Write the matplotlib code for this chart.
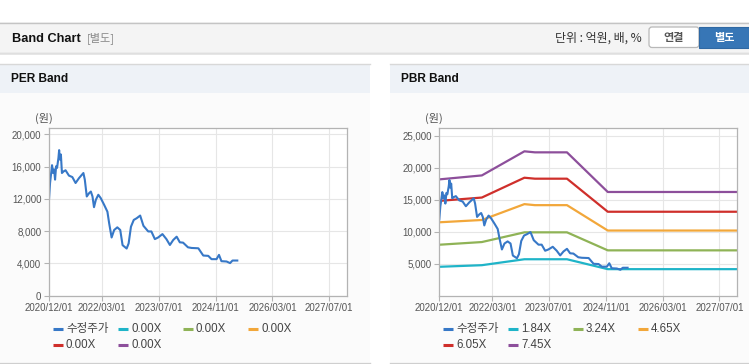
import matplotlib
matplotlib.use("Agg")
import matplotlib.pyplot as plt
from matplotlib.patches import Rectangle, FancyBboxPatch
from matplotlib.lines import Line2D
import pandas as pd

# adjusted close price (수정주가)
price_dates = [
    "2020-12-01", "2020-12-10", "2020-12-27", "2021-01-05", "2021-01-14", "2021-01-22",
    "2021-01-31", "2021-02-08", "2021-02-20", "2021-02-26", "2021-03-04", "2021-03-13",
    "2021-03-22", "2021-04-05", "2021-04-22", "2021-05-21", "2021-06-19", "2021-07-17",
    "2021-08-16", "2021-09-22", "2021-10-04", "2021-10-21", "2021-11-10", "2021-11-25",
    "2021-12-09", "2021-12-22", "2022-01-07", "2022-01-28", "2022-02-18", "2022-03-19",
    "2022-04-16", "2022-05-01", "2022-05-22", "2022-06-13", "2022-07-10", "2022-08-04",
    "2022-08-24", "2022-09-28", "2022-10-15", "2022-11-04", "2022-11-28", "2022-12-22",
    "2023-01-22", "2023-02-19", "2023-04-01", "2023-04-28", "2023-05-28", "2023-06-25",
    "2023-08-01", "2023-09-04", "2023-10-04", "2023-11-01", "2023-12-01", "2023-12-28",
    "2024-01-25", "2024-03-07", "2024-04-07", "2024-06-04", "2024-07-16", "2024-08-28",
    "2024-09-25", "2024-11-07", "2024-11-28", "2024-12-19", "2025-02-01", "2025-03-03",
    "2025-03-24", "2025-05-04",
]
price_values = [
    11900, 13960, 16170, 15200, 15650, 14380,
    16040, 15830, 17080, 18040, 16880, 17500,
    15200, 15400, 15540, 14880, 14700, 13960,
    14580, 15200, 14380, 12290, 12700, 12900,
    12290, 10960, 11880, 12500, 12080, 11250,
    10400, 8960, 7200, 8130, 8460, 8130,
    6250, 5830, 6460, 8540, 9380, 9580,
    9920, 8650, 7950, 7950, 7000, 7200,
    7620, 7000, 6270, 6880, 7300, 6600,
    6560, 5980, 5900, 5860, 4960, 4920,
    4510, 4510, 5040, 4260, 4220, 4020,
    4340, 4340,
]

# PBR band vertices
band_dates = ["2020-12-01", "2021-12-01", "2022-12-01", "2023-03-01", "2023-12-01", "2024-11-15", "2027-12-01"]
pbr_1_84 = [4490, 4740, 5670, 5670, 5670, 4120, 4120]
pbr_3_24 = [7940, 8360, 9880, 9880, 9880, 7060, 7060]
pbr_4_65 = [11450, 11810, 14290, 14130, 14130, 10160, 10160]
pbr_6_05 = [14800, 15320, 18420, 18270, 18270, 13100, 13100]
pbr_7_45 = [18160, 18780, 22550, 22390, 22390, 16190, 16190]

per_labels = ["수정주가", "0.00X", "0.00X", "0.00X", "0.00X", "0.00X"]
pbr_labels = ["수정주가", "1.84X", "3.24X", "4.65X", "6.05X", "7.45X"]

xtick_dates = ["2020/12/01", "2022/03/01", "2023/07/01", "2024/11/01", "2026/03/01", "2027/07/01"]
per_yticks = [0, 4000, 8000, 12000, 16000, 20000]
pbr_yticks = [5000, 10000, 15000, 20000, 25000]

colors = ["#3778c7", "#1fb4c8", "#8fb356", "#f2a73a", "#cf2f2b", "#8d4f9b"]
FONT = ["Liberation Sans", "Noto Sans CJK KR", "DejaVu Sans"]
KFONT = ["Noto Sans CJK KR", "DejaVu Sans"]

W, H = 749, 364


def setup_axes(fig, left_px, yticks, ymax):
    ax = fig.add_axes([left_px / W, (H - 295.5) / H, 298 / W, (295.5 - 128.3) / H])
    ax.set_facecolor("white")
    xt = [pd.Timestamp(d.replace("/", "-")) for d in xtick_dates]
    ax.set_xlim(pd.Timestamp("2020-12-01"), pd.Timestamp("2027-12-01"))
    ax.set_ylim(0, ymax)
    ax.set_xticks(xt)
    ax.set_xticklabels(xtick_dates)
    ax.set_yticks(yticks)
    ax.set_yticklabels([f"{v:,}" for v in yticks])
    ax.grid(True, color="#e6e6e6", linewidth=0.8)
    ax.set_axisbelow(True)
    for s in ax.spines.values():
        s.set_color("#b3b3b3")
        s.set_linewidth(0.9)
    ax.tick_params(axis="both", colors="#b3b3b3", length=3.5, width=0.8,
                   labelcolor="#555555", labelsize=7.0, pad=2)
    for lab in ax.get_xticklabels() + ax.get_yticklabels():
        lab.set_family(FONT)
    return ax


def draw_legend(bg, x0, labels):
    cols = [0, 65, 130, 195]
    for i, (lab, c) in enumerate(zip(labels, colors)):
        row, col = divmod(i, 4)
        x = x0 + cols[col]
        y = 329 + row * 15.5
        bg.add_line(Line2D([x, x + 10], [y, y], color=c, linewidth=2.2, solid_capstyle="butt"))
        bg.text(x + 13, y, lab, fontsize=8.3, color="#444444", family=FONT, va="center", ha="left")


if __name__ == "__main__":
    fig = plt.figure(figsize=(W / 100, H / 100), dpi=100)
    fig.patch.set_facecolor("white")

    # background layer in pixel coordinates
    bg = fig.add_axes([0, 0, 1, 1])
    bg.set_xlim(0, W)
    bg.set_ylim(H, 0)
    bg.axis("off")

    # top bar
    bg.add_patch(Rectangle((0, 22), W, 31, facecolor="#f4f4f4", edgecolor="none"))
    bg.add_line(Line2D([0, W], [22.5, 22.5], color="#c4c4c4", linewidth=1))
    bg.add_line(Line2D([0, W], [53, 53], color="#c8c8c8", linewidth=1))
    bg.add_line(Line2D([0, W], [54.2, 54.2], color="#e4e4e4", linewidth=1.2))
    bg.text(12, 38.5, "Band Chart", fontsize=9.2, fontweight="bold", color="#111111",
            family=FONT, va="center", ha="left")
    bg.text(87, 38.5, "[별도]", fontsize=8, color="#888888", family=KFONT, va="center", ha="left")
    bg.text(642, 38.5, "단위 : 억원, 배, %", fontsize=8.6, color="#333333", family=KFONT,
            va="center", ha="right")
    bg.add_patch(FancyBboxPatch((649, 27), 50, 20.5, boxstyle="round,pad=0,rounding_size=3",
                                facecolor="white", edgecolor="#b8b8b8", linewidth=0.9))
    bg.text(674, 37.5, "연결", fontsize=8, fontweight="bold", color="#555555", family=KFONT,
            va="center", ha="center")
    bg.add_patch(Rectangle((699, 26.5), 50, 21.5, facecolor="#3776b6", edgecolor="#2f68a3", linewidth=0.8))
    bg.text(724, 37.5, "별도", fontsize=8, fontweight="bold", color="white", family=KFONT,
            va="center", ha="center")

    # panels
    for px0, px1, title in [(0, 370, "PER Band"), (390, W, "PBR Band")]:
        bg.add_patch(Rectangle((px0, 93), px1 - px0, 269, facecolor="#fbfbfb", edgecolor="none"))
        bg.add_patch(Rectangle((px0, 64), px1 - px0, 29, facecolor="#eef2f7", edgecolor="none"))
        bg.add_line(Line2D([px0, px1], [64, 64], color="#d8d8d8", linewidth=1))
        bg.add_line(Line2D([px0, px1], [362.5, 362.5], color="#cfcfcf", linewidth=1))
        bg.text(px0 + 11, 79, title, fontsize=8.6, fontweight="bold", color="#111111",
                family=FONT, va="center", ha="left")
        bg.text(px0 + 35, 118, "(원)", fontsize=8, color="#555555", family=KFONT,
                va="center", ha="left")

    pd_price = pd.to_datetime(price_dates)
    pd_band = pd.to_datetime(band_dates)

    # PER band
    ax1 = setup_axes(fig, 49, per_yticks, 20750)
    ax1.plot(pd_price, price_values, color=colors[0], linewidth=1.5)
    draw_legend(bg, 53, per_labels)

    # PBR band
    ax2 = setup_axes(fig, 439.3, pbr_yticks, 26150)
    bands = [pbr_1_84, pbr_3_24, pbr_4_65, pbr_6_05, pbr_7_45]
    for vals, c in zip(bands, colors[1:]):
        ax2.plot(pd_band, vals, color=c, linewidth=1.6)
    ax2.plot(pd_price, price_values, color=colors[0], linewidth=1.5)
    draw_legend(bg, 443, pbr_labels)

    fig.savefig("out.png", dpi=100, facecolor=fig.get_facecolor())
